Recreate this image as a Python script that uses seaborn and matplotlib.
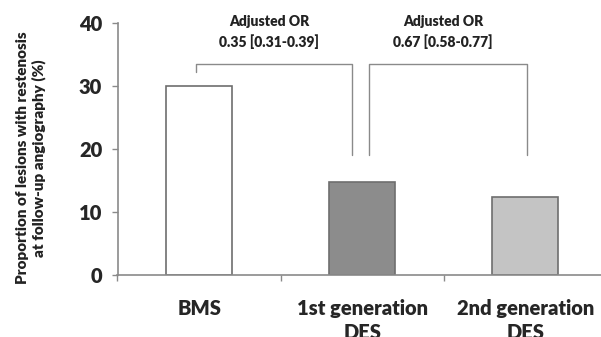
import matplotlib
matplotlib.use("Agg")
import matplotlib.pyplot as plt
import seaborn as sns
import pandas as pd

# bar data
groups = ["BMS", "1st generation\nDES", "2nd generation\nDES"]
restenosis = [30.0, 14.8, 12.4]
bar_colors = ["#ffffff", "#8c8c8c", "#c4c4c4"]

# bracket annotations: (left x, right x, left leg bottom, right leg bottom, text)
or_labels = ["Adjusted OR\n0.35 [0.31-0.39]", "Adjusted OR\n0.67 [0.58-0.77]"]
brackets = [(-0.02, 0.94, 32.2, 19.0), (1.04, 2.01, 19.0, 19.0)]
bracket_top = 33.5

sns.set_style("white")
plt.rcParams["font.family"] = ["Lato", "DejaVu Sans"]
plt.rcParams["font.weight"] = "bold"

df = pd.DataFrame({"group": groups, "pct": restenosis})

fig = plt.figure(figsize=(6.01, 3.37), dpi=100)
ax = fig.add_axes([117.5 / 601, 62 / 337, 489.5 / 601, 252 / 337])

sns.barplot(data=df, x="group", y="pct", hue="group", palette=bar_colors,
            width=0.405, edgecolor="#6e6e6e", linewidth=1.2, legend=False, ax=ax)

ax.set_xlim(-0.5, 2.5)
ax.set_ylim(0, 40)
ax.set_yticks([0, 10, 20, 30, 40])
ax.set_xlabel("")
ax.set_ylabel("")

for s in ["top", "right"]:
    ax.spines[s].set_visible(False)
for s in ["left", "bottom"]:
    ax.spines[s].set_color("#8a8a8a")
    ax.spines[s].set_linewidth(1.2)

ax.tick_params(axis="y", which="major", left=True, length=4, width=1, color="#8a8a8a",
               labelsize=14.5, pad=7)
for lab in ax.get_yticklabels():
    lab.set_fontweight("heavy")
ax.tick_params(axis="x", which="major", length=0, labelsize=14.5, pad=17)
for lab in ax.get_xticklabels():
    lab.set_fontweight("heavy")
    lab.set_linespacing(1.35)
ax.set_xticks([-0.5, 0.5, 1.5], minor=True)
ax.tick_params(axis="x", which="minor", bottom=True, length=4, width=1, color="#8a8a8a")

# brackets and OR text
for (x0, x1, y0, y1), txt in zip(brackets, or_labels):
    ax.plot([x0, x0, x1, x1], [y0, bracket_top, bracket_top, y1],
            color="#8a8a8a", lw=1.0, clip_on=False)
    ax.text((x0 + x1) / 2 - 0.03, 35.9, txt, ha="center", va="bottom",
            fontsize=10, fontweight="heavy", linespacing=1.45, color="#222222")

fig.text(31 / 601, 1 - 158 / 337,
         "Proportion of lesions with restenosis\nat follow-up angiography (%)",
         rotation=90, ha="center", va="center", fontsize=11, fontweight="heavy",
         linespacing=1.25, color="#222222")

fig.savefig("out.png", dpi=100)
